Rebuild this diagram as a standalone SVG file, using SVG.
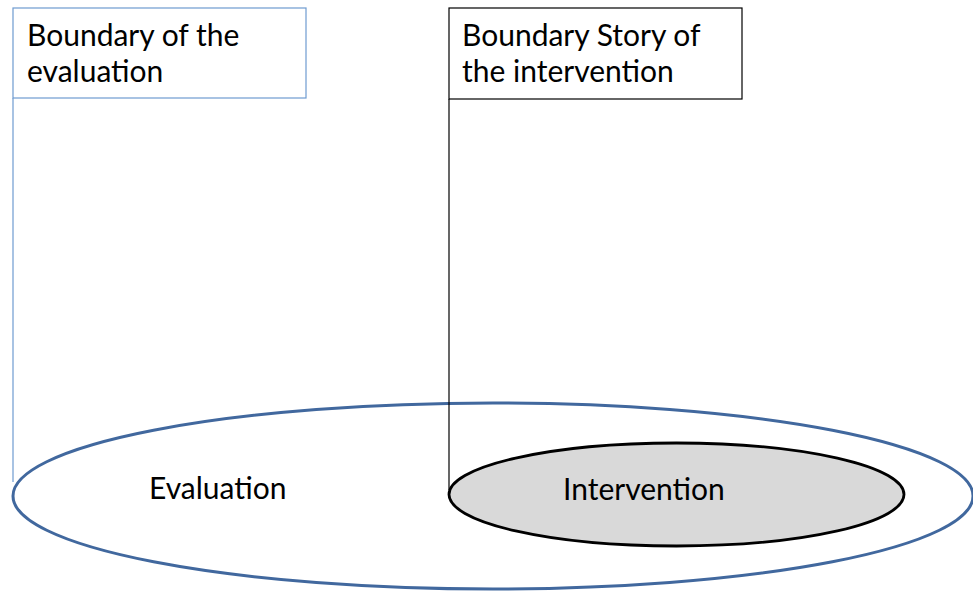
<svg xmlns="http://www.w3.org/2000/svg" width="973" height="591" viewBox="0 0 973 591">
  <style>
    .lbl { font-family: "Lato", "Open Sans", "Liberation Sans", sans-serif; font-size: 30px; fill: #000; }
    .box-eval { fill: #fff; stroke: #6E9BD0; stroke-width: 1.2; }
    .box-int { fill: #fff; stroke: #000; stroke-width: 1.2; }
  </style>
  <rect width="973" height="591" fill="#fff"/>

  <g id="evaluation">
    <ellipse cx="493" cy="496" rx="480" ry="93" fill="#fff" stroke="#41689E" stroke-width="3"/>
    <text class="lbl" x="149" y="499">Evaluation</text>
  </g>

  <g id="intervention">
    <ellipse cx="676.5" cy="494.5" rx="227.5" ry="51.5" fill="#D9D9D9" stroke="#000" stroke-width="2.8"/>
    <text class="lbl" x="563" y="500">Intervention</text>
  </g>

  <g id="connectors" fill="none" stroke-width="1.2">
    <line x1="13" y1="98" x2="13" y2="482" stroke="#6E9BD0"/>
    <line x1="449" y1="99" x2="449" y2="490" stroke="#000"/>
  </g>

  <g id="boundary-evaluation">
    <rect class="box-eval" x="13" y="8" width="293" height="90"/>
    <text class="lbl" x="27" y="46">Boundary of the</text>
    <text class="lbl" x="27" y="82">evaluation</text>
  </g>

  <g id="boundary-intervention">
    <rect class="box-int" x="449" y="8" width="293" height="91"/>
    <text class="lbl" x="462" y="46">Boundary Story of</text>
    <text class="lbl" x="462" y="82">the intervention</text>
  </g>
</svg>
